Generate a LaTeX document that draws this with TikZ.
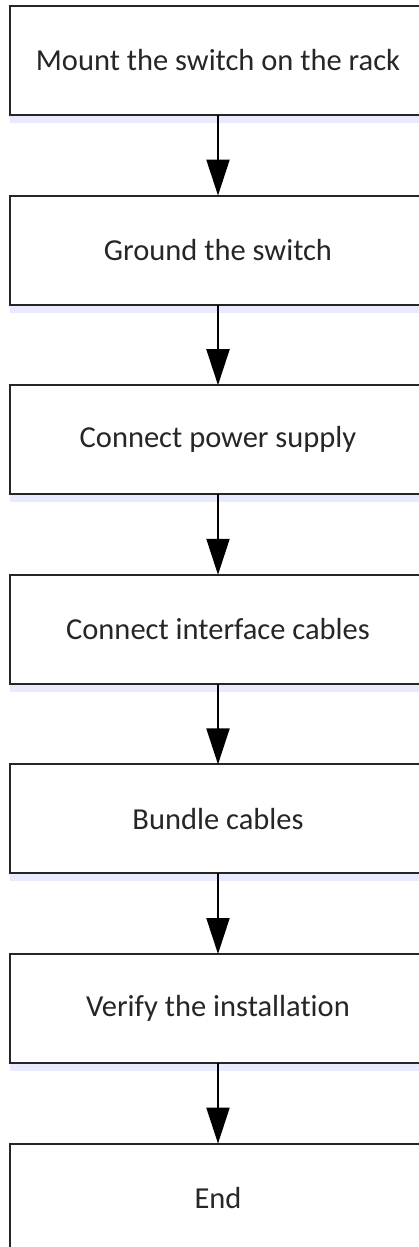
\documentclass[tikz,border=0pt]{standalone}
\usepackage{fontspec}
\setmainfont{Carlito}[Ligatures=NoCommon]
\usetikzlibrary{positioning,arrows.meta,shadows}

\tikzset{
  stepbox/.style={draw=black!85, line width=2pt, fill=white, outer sep=0pt,
    minimum width=416pt, minimum height=109pt, inner sep=0pt,
    font=\fontsize{30.5}{33}\selectfont, text=black!85,
    drop shadow={shadow xshift=0pt, shadow yshift=-8pt, fill=blue!20!white, opacity=.4}},
  flow/.style={line width=2pt, -{Triangle[length=36pt,width=23pt]}}
}

\begin{document}
\begin{tikzpicture}[x=1pt,y=1pt]
\useasboundingbox (0,0) rectangle (419,-1247);
\fill[white] (0,0) rectangle (419,-1247);

\node[stepbox] (mount) at (218,-60.5) {Mount the switch on the rack};
\node[stepbox, below=80.6pt of mount] (ground) {Ground the switch};
\node[stepbox, below=80.6pt of ground] (power) {Connect power supply};
\node[stepbox, below=80.6pt of power] (iface) {Connect interface cables};
\node[stepbox, below=80.6pt of iface] (bundle) {Bundle cables};
\node[stepbox, below=80.6pt of bundle] (verify) {Verify the installation};
\node[stepbox, below=80.6pt of verify] (end) {End};

\draw[flow] (mount) -- (ground);
\draw[flow] (ground) -- (power);
\draw[flow] (power) -- (iface);
\draw[flow] (iface) -- (bundle);
\draw[flow] (bundle) -- (verify);
\draw[flow] (verify) -- (end);
\end{tikzpicture}
\end{document}
